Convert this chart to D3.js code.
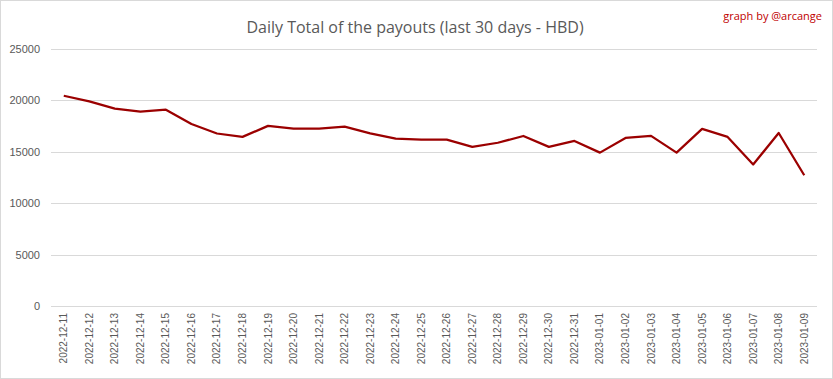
<!DOCTYPE html>
<html>
<head>
<meta charset="utf-8">
<script src="https://cdn.jsdelivr.net/npm/d3@7"></script>
<style>
  body { margin: 0; background: #fff; }
  #chart-container svg { display: block; }
</style>
</head>
<body>
<div id="chart-container"></div>
<script>
const dates = [
  '2022-12-11', '2022-12-12', '2022-12-13', '2022-12-14', '2022-12-15',
  '2022-12-16', '2022-12-17', '2022-12-18', '2022-12-19', '2022-12-20',
  '2022-12-21', '2022-12-22', '2022-12-23', '2022-12-24', '2022-12-25',
  '2022-12-26', '2022-12-27', '2022-12-28', '2022-12-29', '2022-12-30',
  '2022-12-31', '2023-01-01', '2023-01-02', '2023-01-03', '2023-01-04',
  '2023-01-05', '2023-01-06', '2023-01-07', '2023-01-08', '2023-01-09',
];
const payouts = [
  20450, 19900, 19200, 18900, 19100,
  17700, 16780, 16450, 17520, 17250,
  17250, 17450, 16800, 16280, 16180,
  16180, 15480, 15880, 16540, 15480,
  16060, 14920, 16350, 16550, 14920,
  17230, 16450, 13760, 16830, 12720,
];
const yTicks = [0, 5000, 10000, 15000, 20000, 25000];

const width = 833;
const height = 379;
const margin = { top: 49, right: 16, bottom: 73, left: 51 };

const svg = d3.select('#chart-container')
  .append('svg')
  .attr('width', width)
  .attr('height', height)
  .style('font-family', '"Open Sans", "Liberation Sans", sans-serif');

// chart border
svg.append('rect')
  .attr('x', 0.5).attr('y', 0.5)
  .attr('width', width - 1).attr('height', height - 1)
  .attr('fill', '#fff')
  .attr('stroke', '#d9d9d9');

const x = d3.scaleBand()
  .domain(dates)
  .range([margin.left, width - margin.right]);

const y = d3.scaleLinear()
  .domain([0, 25000])
  .range([height - margin.bottom, margin.top]);

// gridlines
svg.append('g')
  .selectAll('line')
  .data(yTicks)
  .enter()
  .append('line')
  .attr('x1', margin.left)
  .attr('x2', width - margin.right)
  .attr('y1', (d) => Math.round(y(d)) + 0.5)
  .attr('y2', (d) => Math.round(y(d)) + 0.5)
  .attr('stroke', '#d9d9d9')
  .attr('stroke-width', 1);

// y axis labels
const yAxis = svg.append('g')
  .attr('transform', `translate(${margin.left}, 0)`)
  .call(d3.axisLeft(y).tickValues(yTicks).tickFormat(d3.format('d')).tickSize(0).tickPadding(11));
yAxis.select('.domain').remove();
yAxis.selectAll('text')
  .style('font-size', '11px')
  .style('fill', '#595959');

// x axis labels
const xAxis = svg.append('g')
  .attr('transform', `translate(0, ${height - margin.bottom})`)
  .call(d3.axisBottom(x).tickSize(0));
xAxis.select('.domain').remove();
xAxis.selectAll('text')
  .style('font-size', '10px')
  .style('fill', '#595959')
  .attr('text-anchor', 'end')
  .attr('transform', 'rotate(-90)')
  .attr('x', -7)
  .attr('y', 0)
  .attr('dy', '0.35em');

// line
const lineGenerator = d3.line()
  .x((d, i) => x(dates[i]) + x.bandwidth() / 2)
  .y((d) => y(d));

svg.append('path')
  .datum(payouts)
  .attr('d', lineGenerator)
  .attr('fill', 'none')
  .attr('stroke', '#9b0000')
  .attr('stroke-width', 2.25)
  .attr('stroke-linejoin', 'round');

// title
svg.append('text')
  .attr('x', 415)
  .attr('y', 33)
  .attr('text-anchor', 'middle')
  .style('font-size', '16px')
  .style('fill', '#595959')
  .text('Daily Total of the payouts (last 30 days - HBD)');

svg.append('text')
  .attr('x', 822)
  .attr('y', 20)
  .attr('text-anchor', 'end')
  .style('font-size', '11px')
  .style('fill', '#c00000')
  .text('graph by @arcange');
</script>
</body>
</html>
